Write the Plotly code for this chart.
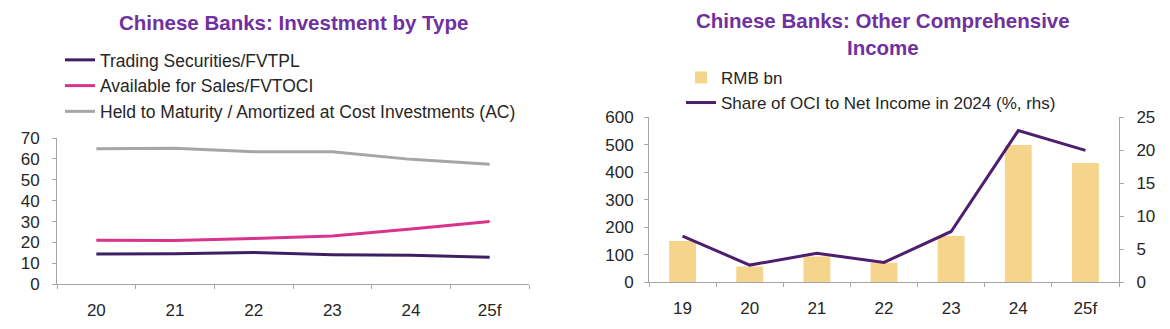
import plotly.graph_objects as go

# ---- Investment by type (% of total investments) ----
inv_years = ["20", "21", "22", "23", "24", "25f"]
trading_fvtpl = [14.4, 14.6, 15.2, 14.1, 13.8, 12.9]
afs_fvtoci = [21.0, 20.9, 21.9, 23.1, 26.4, 30.0]
htm_ac = [64.9, 65.1, 63.5, 63.5, 59.8, 57.5]

# ---- Other comprehensive income ----
oci_years = ["19", "20", "21", "22", "23", "24", "25f"]
oci_rmb_bn = [150, 57, 94, 71, 168, 499, 434]
oci_share_pct = [7.0, 2.6, 4.4, 3.0, 7.7, 23.0, 20.0]

TITLE_PURPLE = "#7030A0"
TEXT = "#262626"
AXIS = "#A6A6A6"
FONT = "Liberation Sans, Arial, sans-serif"
W, H = 1170, 329

fig = go.Figure()

fig.add_trace(go.Scatter(x=inv_years, y=trading_fvtpl, mode="lines",
                         name="Trading Securities/FVTPL",
                         line=dict(color="#3F1F63", width=3),
                         xaxis="x", yaxis="y", legend="legend"))
fig.add_trace(go.Scatter(x=inv_years, y=afs_fvtoci, mode="lines",
                         name="Available for Sales/FVTOCI",
                         line=dict(color="#D9348C", width=3),
                         xaxis="x", yaxis="y", legend="legend"))
fig.add_trace(go.Scatter(x=inv_years, y=htm_ac, mode="lines",
                         name="Held to Maturity / Amortized at Cost Investments (AC)",
                         line=dict(color="#A6A6A6", width=3),
                         xaxis="x", yaxis="y", legend="legend"))

fig.add_trace(go.Bar(x=oci_years, y=oci_rmb_bn, name="RMB bn",
                     marker=dict(color="#F5D48B", line=dict(width=0)),
                     width=0.4, xaxis="x2", yaxis="y3", legend="legend2"))
fig.add_trace(go.Scatter(x=oci_years, y=oci_share_pct, mode="lines",
                         name="Share of OCI to Net Income in 2024 (%, rhs)",
                         line=dict(color="#4E1F6E", width=3),
                         xaxis="x2", yaxis="y4", legend="legend2"))

tickfont = dict(family=FONT, size=17, color=TEXT)


def xax(domain, anchor, n):
    return dict(domain=domain, anchor=anchor, type="category",
                range=[-0.5, n - 0.5],
                showline=True, linecolor=AXIS, linewidth=1,
                ticks="outside", tickson="boundaries", ticklen=4,
                tickcolor=AXIS, showgrid=False, zeroline=False,
                tickfont=tickfont, ticklabelstandoff=10, fixedrange=True)


def yax(domain, rng, dtick, side="left", overlaying=None, anchor=None, standoff=10):
    d = dict(domain=domain, range=rng, dtick=dtick, side=side,
             showline=True, linecolor=AXIS, linewidth=1,
             ticks="outside", ticklen=4, tickcolor=AXIS,
             showgrid=False, zeroline=False, tickfont=tickfont,
             ticklabelstandoff=standoff, fixedrange=True)
    if overlaying:
        d["overlaying"] = overlaying
    if anchor:
        d["anchor"] = anchor
    return d


left_dom_x = [57 / W, 529 / W]
left_dom_y = [(H - 292) / H, (H - 137) / H]
right_dom_x = [649 / W, 1119 / W]
right_dom_y = [(H - 290) / H, (H - 115) / H]

fig.update_layout(
    width=W, height=H,
    margin=dict(l=0, r=0, t=0, b=0),
    paper_bgcolor="white", plot_bgcolor="white",
    font=dict(family=FONT, color=TEXT),
    showlegend=True,
    xaxis=xax(left_dom_x, "y", len(inv_years)),
    yaxis=yax(left_dom_y, [0, 70], 10, anchor="x", standoff=9),
    yaxis2=yax(left_dom_y, [0, 70], 10, side="right", overlaying="y", anchor="x", standoff=12),
    xaxis2=xax(right_dom_x, "y3", len(oci_years)),
    yaxis3=yax(right_dom_y, [0, 600], 100, anchor="x2", standoff=7),
    yaxis4=yax(right_dom_y, [0, 25], 5, side="right", overlaying="y3", anchor="x2", standoff=9),
    legend=dict(x=60 / W, y=1 - 35 / H, xanchor="left", yanchor="top",
                bgcolor="rgba(0,0,0,0)", font=dict(family=FONT, size=17.5, color=TEXT),
                itemwidth=30, tracegroupgap=0),
    legend2=dict(x=681 / W, y=1 - 54 / H, xanchor="left", yanchor="top",
                 bgcolor="rgba(0,0,0,0)", font=dict(family=FONT, size=17, color=TEXT),
                 itemwidth=30, tracegroupgap=0),
    annotations=[
        dict(text="<b>Chinese Banks: Investment by Type</b>", x=293 / W, y=1 - 14 / H,
             xref="paper", yref="paper", showarrow=False, xanchor="center", yanchor="middle",
             font=dict(family=FONT, size=20.5, color=TITLE_PURPLE)),
        dict(text="<b>Chinese Banks: Other Comprehensive<br>Income</b>", x=883 / W,
             y=1 - 27 / H, xref="paper", yref="paper", showarrow=False,
             xanchor="center", yanchor="middle",
             font=dict(family=FONT, size=20.5, color=TITLE_PURPLE)),
    ],
)

fig.write_html("out.html")
